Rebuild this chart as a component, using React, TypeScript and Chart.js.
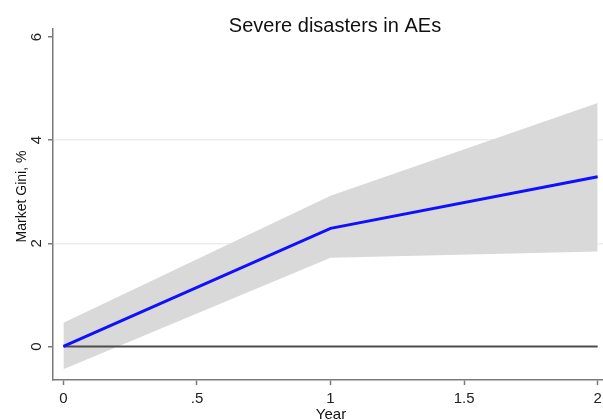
import React, { useEffect, useRef } from "react";
import { Chart, registerables } from "chart.js";

Chart.register(...registerables);

// ---- data ----
const TITLE = "Severe disasters in AEs";
const X_TITLE = "Year";
const Y_TITLE = "Market Gini, %";

const years = [0, 1, 2];
const estimate = [0, 2.29, 3.29];
const upperCI = [0.46, 2.92, 4.72];
const lowerCI = [-0.44, 1.72, 1.84];
const zeroLineX = [0, 2];
const zeroLineY = [0, 0];

const xTicks = [0, 0.5, 1, 1.5, 2];
const xTickLabels = ["0", ".5", "1", "1.5", "2"];
const yTicks = [0, 2, 4, 6];
const yTickLabels = ["0", "2", "4", "6"];
const yGridValues = [2, 4];

const FONT = '"Liberation Sans", Arial, Helvetica, sans-serif';

const titlesPlugin = {
  id: "stataTitles",
  afterDraw(chart: any) {
    const ctx = chart.ctx;
    const area = chart.chartArea;
    ctx.save();
    ctx.fillStyle = "#111111";
    ctx.textAlign = "center";
    ctx.textBaseline = "alphabetic";
    ctx.font = `20px ${FONT}`;
    ctx.fillText(TITLE, area.left + (area.right - area.left) / 2 + 7, 32);

    ctx.font = `15px ${FONT}`;
    ctx.fillText(X_TITLE, area.left + (area.right - area.left) / 2 + 3, 419);

    ctx.translate(26, area.top + (area.bottom - area.top) / 2 - 8);
    ctx.rotate(-Math.PI / 2);
    ctx.font = `14px ${FONT}`;
    ctx.fillText(Y_TITLE, 0, 0);
    ctx.restore();
  },
};

export default function App() {
  const canvasRef = useRef<HTMLCanvasElement | null>(null);

  useEffect(() => {
    if (!canvasRef.current) return;
    const chart = new Chart(canvasRef.current, {
      type: "line",
      data: {
        datasets: [
          {
            label: "estimate",
            data: years.map((x, i) => ({ x, y: estimate[i] })),
            borderColor: "#1010ff",
            borderWidth: 3,
            pointRadius: 0,
            fill: false,
          },
          {
            label: "zero",
            data: zeroLineX.map((x, i) => ({ x, y: zeroLineY[i] })),
            borderColor: "#4d4d4d",
            borderWidth: 2,
            pointRadius: 0,
            fill: false,
          },
          {
            label: "upper",
            data: years.map((x, i) => ({ x, y: upperCI[i] })),
            borderColor: "rgba(0,0,0,0)",
            borderWidth: 0,
            backgroundColor: "#d9d9d9",
            pointRadius: 0,
            fill: "+1",
          },
          {
            label: "lower",
            data: years.map((x, i) => ({ x, y: lowerCI[i] })),
            borderColor: "rgba(0,0,0,0)",
            borderWidth: 0,
            pointRadius: 0,
            fill: false,
          },
        ],
      },
      options: {
        responsive: false,
        animation: false,
        events: [],
        layout: { padding: { top: 29, left: 0, right: 0, bottom: 0 } },
        plugins: {
          legend: { display: false },
          tooltip: { enabled: false },
          title: { display: false },
        },
        scales: {
          x: {
            type: "linear",
            min: -0.039,
            max: 2.02,
            afterBuildTicks: (scale: any) => {
              scale.ticks = xTicks.map((v) => ({ value: v }));
            },
            afterFit: (scale: any) => {
              scale.height = 40;
              scale.paddingLeft = 0;
              scale.paddingRight = 0;
            },
            border: { display: true, color: "#7a7a7a", width: 1.5 },
            grid: {
              drawOnChartArea: false,
              drawTicks: true,
              tickLength: 5,
              tickColor: "#7a7a7a",
              tickWidth: 1.5,
            },
            ticks: {
              autoSkip: false,
              maxRotation: 0,
              minRotation: 0,
              padding: 5,
              color: "#222222",
              font: { family: FONT, size: 15 },
              callback: (value: any) => {
                const i = xTicks.indexOf(Number(value));
                return i >= 0 ? xTickLabels[i] : "";
              },
            },
          },
          y: {
            type: "linear",
            min: -0.65,
            max: 6.155,
            afterBuildTicks: (scale: any) => {
              scale.ticks = yTicks.map((v) => ({ value: v }));
            },
            afterFit: (scale: any) => {
              scale.width = 53;
              scale.paddingTop = 0;
              scale.paddingBottom = 0;
            },
            border: { display: true, color: "#7a7a7a", width: 1.5 },
            grid: {
              drawOnChartArea: true,
              drawTicks: true,
              tickLength: 5,
              tickColor: "#7a7a7a",
              tickWidth: 1.5,
              lineWidth: 1.5,
              color: (ctx: any) =>
                ctx.tick && yGridValues.includes(ctx.tick.value)
                  ? "#ebeeee"
                  : "rgba(0,0,0,0)",
            },
            ticks: {
              autoSkip: false,
              minRotation: 90,
              maxRotation: 90,
              crossAlign: "center",
              padding: 7,
              color: "#222222",
              font: { family: FONT, size: 15 },
              callback: (value: any) => {
                const i = yTicks.indexOf(Number(value));
                return i >= 0 ? yTickLabels[i] : "";
              },
            },
          },
        },
      },
      plugins: [titlesPlugin],
    } as any);
    return () => chart.destroy();
  }, []);

  return (
    <div
      style={{
        position: "absolute",
        left: 0,
        top: 0,
        width: 603,
        height: 420,
        background: "#ffffff",
      }}
    >
      <canvas
        ref={canvasRef}
        width={603}
        height={420}
        style={{ display: "block", width: 603, height: 420 }}
      />
    </div>
  );
}
